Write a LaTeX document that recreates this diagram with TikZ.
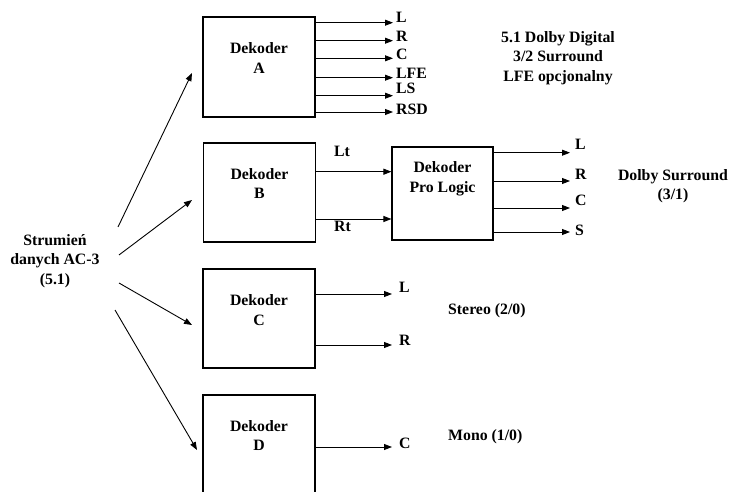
\documentclass[tikz,border=0pt]{standalone}
\usepackage{fontspec}
\setmainfont{Liberation Serif}
\usetikzlibrary{arrows.meta}
\begin{document}
\begin{tikzpicture}[x=1pt,y=-1pt,
  box/.style={draw, line width=1.1pt, inner sep=0pt, minimum width=112pt},
  txt/.style={font=\fontsize{15.8}{19.5}\selectfont\bfseries, inner sep=0pt, align=center},
  lab/.style={txt, anchor=base west},
  arr/.style={line width=0.9pt, -{Triangle[length=8pt,width=6pt]}}]
\clip (0,0) rectangle (732,492);
% boxes
\node[box, minimum height=100pt] (A) at (259,67) {};
\node[box, minimum height=99pt] (B) at (259.5,192.5) {};
\node[box, minimum height=99pt] (C) at (259,318.5) {};
\node[box, minimum height=120pt] (D) at (259,455) {};
\node[box, minimum width=101pt, minimum height=93pt] (PL) at (442.5,193.5) {};
% box labels
\node[txt] (tA) at (259,58) {Dekoder\\A};
\node[txt] (tB) at (259.5,183.5) {Dekoder\\B};
\node[txt] (tC) at (259,310) {Dekoder\\C};
\node[txt] (tD) at (259,435.5) {Dekoder\\D};
\node[txt] (tPL) at (442.5,179) {Dekoder\\Pro Logic};
% source
\node[txt] (S) at (55,261) {Strumień\\danych AC-3\\(5.1)};
\coordinate (s1) at (118,227); \coordinate (e1) at (192,73);
\coordinate (s2) at (119,255); \coordinate (e2) at (192,200);
\coordinate (s3) at (119,283); \coordinate (e3) at (192,325);
\coordinate (s4) at (115,310); \coordinate (e4) at (197,450);
\draw[arr] (s1) -- (e1);
\draw[arr] (s2) -- (e2);
\draw[arr] (s3) -- (e3);
\draw[arr] (s4) -- (e4);
% outputs of A
\coordinate (aL) at (393,22.7);
\coordinate (aR) at (393,40.7);
\coordinate (aC) at (393,58.3);
\coordinate (aLFE) at (393,77.7);
\coordinate (aLS) at (393,95.7);
\coordinate (aRSD) at (393,112);
\foreach \c in {aL,aR,aC,aLFE,aLS,aRSD} \draw[arr] (A.east |- \c) -- (\c);
\node[lab] (laL) at (396,22.7) {L};
\node[lab] (laR) at (396,41.7) {R};
\node[lab] (laC) at (396,60) {C};
\node[lab] (laLFE) at (396,79) {LFE};
\node[lab] (laLS) at (396,93.3) {LS};
\node[lab] (laRSD) at (396,114.3) {RSD};
% B to Pro Logic
\coordinate (bLt) at (316,171.7);
\coordinate (bRt) at (316,219);
\draw[arr] (bLt) -- (PL.west |- bLt);
\draw[arr] (bRt) -- (PL.west |- bRt);
\node[lab] (lLt) at (334,156.7) {Lt};
\node[lab] (lRt) at (334,231.7) {Rt};
% Pro Logic outputs
\coordinate (pL) at (570,152.7);
\coordinate (pR) at (570,181);
\coordinate (pC) at (570,208);
\coordinate (pS) at (570,232);
\foreach \c in {pL,pR,pC,pS} \draw[arr] (PL.east |- \c) -- (\c);
\node[lab] (lpL) at (575,149.3) {L};
\node[lab] (lpR) at (575,180) {R};
\node[lab] (lpC) at (575,206) {C};
\node[lab] (lpS) at (575,236) {S};
% C outputs
\coordinate (cL) at (392,294);
\coordinate (cR) at (392,345);
\draw[arr] (C.east |- cL) -- (cL);
\draw[arr] (C.east |- cR) -- (cR);
\node[lab] (lcL) at (399,293) {L};
\node[lab] (lcR) at (399,345) {R};
% D output
\coordinate (dC) at (392,447);
\draw[arr] (D.east |- dC) -- (dC);
\node[lab] (ldC) at (399,448) {C};
% descriptions
\node[txt] (dd) at (558,58) {5.1 Dolby Digital\\3/2 Surround\\LFE opcjonalny};
\node[txt] (ds) at (673,186) {Dolby Surround\\(3/1)};
\node[lab] (st) at (448,314) {Stereo (2/0)};
\node[lab] (mo) at (448,440) {Mono (1/0)};
\end{tikzpicture}
\end{document}
